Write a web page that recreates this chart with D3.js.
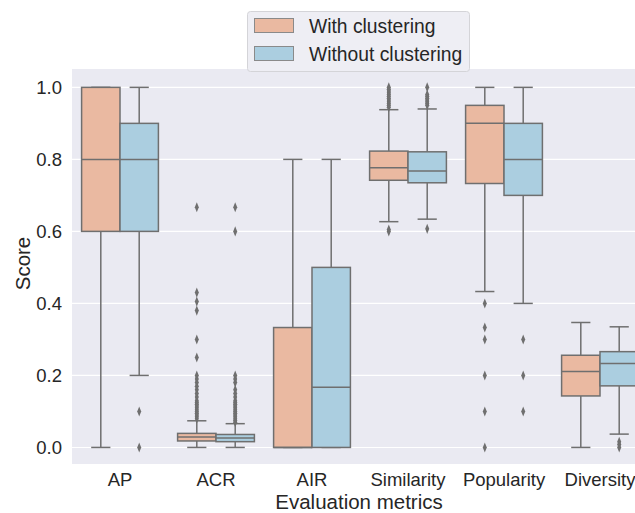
<!DOCTYPE html>
<html>
<head>
<meta charset="utf-8">
<script src="https://cdn.jsdelivr.net/npm/d3@7"></script>
<style>
  html, body { margin: 0; padding: 0; background: #fff; }
  svg { display: block; font-family: "Liberation Sans", Arial, sans-serif; }
</style>
</head>
<body>
<svg id="chart" width="635" height="513"></svg>
<script>
// ---------- data ----------
const categories = ["AP", "ACR", "AIR", "Similarity", "Popularity", "Diversity"];
const hues = ["With clustering", "Without clustering"];
const yTicks = [0.0, 0.2, 0.4, 0.6, 0.8, 1.0];

// With clustering
const withQ1      = [0.6, 0.018, 0.0, 0.742, 0.733, 0.143];
const withMedian  = [0.8, 0.029, 0.0, 0.777, 0.9, 0.211];
const withQ3      = [1.0, 0.039, 0.333, 0.823, 0.95, 0.256];
const withLo      = [0.0, 0.0, 0.0, 0.627, 0.433, 0.0];
const withHi      = [1.0, 0.074, 0.8, 0.938, 1.0, 0.347];
const withOutliers = [
  [],
  [0.08, 0.085, 0.09, 0.095, 0.1, 0.105, 0.11, 0.115, 0.12, 0.125, 0.13, 0.14, 0.15, 0.16, 0.17, 0.18, 0.19, 0.2, 0.25, 0.3, 0.38, 0.405, 0.43, 0.667],
  [],
  [0.6, 0.605, 0.945, 0.95, 0.955, 0.96, 0.965, 0.97, 0.975, 0.98, 0.985, 0.99, 0.995, 1.0],
  [0.0, 0.1, 0.2, 0.3, 0.333, 0.4],
  []
];

// Without clustering
const withoutQ1     = [0.6, 0.016, 0.0, 0.735, 0.7, 0.171];
const withoutMedian = [0.8, 0.026, 0.167, 0.768, 0.8, 0.233];
const withoutQ3     = [0.9, 0.036, 0.5, 0.821, 0.9, 0.266];
const withoutLo     = [0.2, 0.0, 0.0, 0.634, 0.4, 0.037];
const withoutHi     = [1.0, 0.066, 0.8, 0.94, 1.0, 0.335];
const withoutOutliers = [
  [0.0, 0.1],
  [0.07, 0.075, 0.08, 0.085, 0.09, 0.095, 0.1, 0.105, 0.11, 0.115, 0.12, 0.125, 0.13, 0.14, 0.15, 0.16, 0.18, 0.19, 0.2, 0.6, 0.667],
  [],
  [0.607, 0.95, 0.955, 0.96, 0.965, 0.97, 0.975, 0.98, 1.0],
  [0.1, 0.2, 0.3],
  [0.0, 0.008, 0.016]
];

// ---------- layout ----------
const colors = ["#eab9a1", "#abcee0"];
const edge = "#6f6f6f";
const plot = { left: 72, right: 648, top: 69, bottom: 464 };

const svg = d3.select("#chart");

const x = d3.scaleBand().domain(categories).range([plot.left, plot.right]).paddingInner(0).paddingOuter(0);
const hueScale = d3.scaleBand().domain(hues).range([-0.4 * x.bandwidth(), 0.4 * x.bandwidth()]);
const y = d3.scaleLinear().domain([-0.046, 1.051]).range([plot.bottom, plot.top]);

// background
svg.append("rect")
  .attr("x", plot.left).attr("y", plot.top)
  .attr("width", plot.right - plot.left).attr("height", plot.bottom - plot.top)
  .attr("fill", "#eaeaf2");

// grid
svg.append("g").selectAll("line").data(yTicks).join("line")
  .attr("x1", plot.left).attr("x2", plot.right)
  .attr("y1", d => y(d)).attr("y2", d => y(d))
  .attr("stroke", "#ffffff").attr("stroke-width", 1.1);

// y axis labels
const yAxis = d3.axisLeft(y).tickValues(yTicks).tickFormat(d3.format(".1f")).tickSize(0).tickPadding(10);
const yg = svg.append("g").attr("transform", `translate(${plot.left},0)`).call(yAxis);
yg.select(".domain").remove();
yg.selectAll("text").attr("font-size", 18.5).attr("fill", "#262626").attr("font-family", "Liberation Sans, Arial, sans-serif");

// x axis labels
const xAxis = d3.axisBottom(x).tickSize(0).tickPadding(9);
const xg = svg.append("g").attr("transform", `translate(0,${plot.bottom})`).call(xAxis);
xg.select(".domain").remove();
xg.selectAll("text").attr("font-size", 18.5).attr("fill", "#262626").attr("font-family", "Liberation Sans, Arial, sans-serif");

// axis titles
svg.append("text")
  .attr("x", (plot.left + plot.right) / 2 - 1).attr("y", 509)
  .attr("text-anchor", "middle").attr("font-size", 20.5).attr("fill", "#262626")
  .text("Evaluation metrics");
svg.append("text")
  .attr("transform", `translate(30,${(plot.top + plot.bottom) / 2 - 3}) rotate(-90)`)
  .attr("text-anchor", "middle").attr("font-size", 20.5).attr("fill", "#262626")
  .text("Score");

// boxes
const series = [
  { hue: hues[0], q1: withQ1, med: withMedian, q3: withQ3, lo: withLo, hi: withHi, out: withOutliers, color: colors[0] },
  { hue: hues[1], q1: withoutQ1, med: withoutMedian, q3: withoutQ3, lo: withoutLo, hi: withoutHi, out: withoutOutliers, color: colors[1] }
];

const boxW = hueScale.bandwidth();
const diamond = d3.symbol().type(d3.symbolDiamond).size(22);

series.forEach(s => {
  const g = svg.append("g");
  categories.forEach((c, i) => {
    const cx = x(c) + x.bandwidth() / 2 + hueScale(s.hue) + boxW / 2;
    // whiskers
    g.append("line").attr("x1", cx).attr("x2", cx).attr("y1", y(s.lo[i])).attr("y2", y(s.q1[i]))
      .attr("stroke", edge).attr("stroke-width", 1.5);
    g.append("line").attr("x1", cx).attr("x2", cx).attr("y1", y(s.q3[i])).attr("y2", y(s.hi[i]))
      .attr("stroke", edge).attr("stroke-width", 1.5);
    // caps
    [s.lo[i], s.hi[i]].forEach(v => {
      g.append("line").attr("x1", cx - boxW / 4).attr("x2", cx + boxW / 4)
        .attr("y1", y(v)).attr("y2", y(v)).attr("stroke", edge).attr("stroke-width", 1.5);
    });
    // box
    g.append("rect")
      .attr("x", cx - boxW / 2).attr("width", boxW)
      .attr("y", y(s.q3[i])).attr("height", Math.max(0, y(s.q1[i]) - y(s.q3[i])))
      .attr("fill", s.color).attr("stroke", edge).attr("stroke-width", 1.5);
    // median
    g.append("line").attr("x1", cx - boxW / 2).attr("x2", cx + boxW / 2)
      .attr("y1", y(s.med[i])).attr("y2", y(s.med[i])).attr("stroke", edge).attr("stroke-width", 1.5);
    // outliers
    g.selectAll(null).data(s.out[i]).join("path")
      .attr("d", diamond)
      .attr("transform", d => `translate(${cx},${y(d)}) scale(0.8,1.15)`)
      .attr("fill", edge);
  });
});

// legend
const lg = svg.append("g");
lg.append("rect").attr("x", 247.5).attr("y", 11.5).attr("width", 222).attr("height", 60).attr("rx", 3)
  .attr("fill", "#eeeef4").attr("stroke", "#d4d4d8").attr("stroke-width", 1);
hues.forEach((h, i) => {
  lg.append("rect").attr("x", 254.5).attr("y", 18.5 + i * 28).attr("width", 39).attr("height", 14)
    .attr("fill", colors[i]).attr("stroke", "#8a8a8a").attr("stroke-width", 1);
  lg.append("text").attr("x", 309).attr("y", 32.5 + i * 28)
    .attr("font-size", 19.3).attr("fill", "#262626").text(h);
});
</script>
</body>
</html>
